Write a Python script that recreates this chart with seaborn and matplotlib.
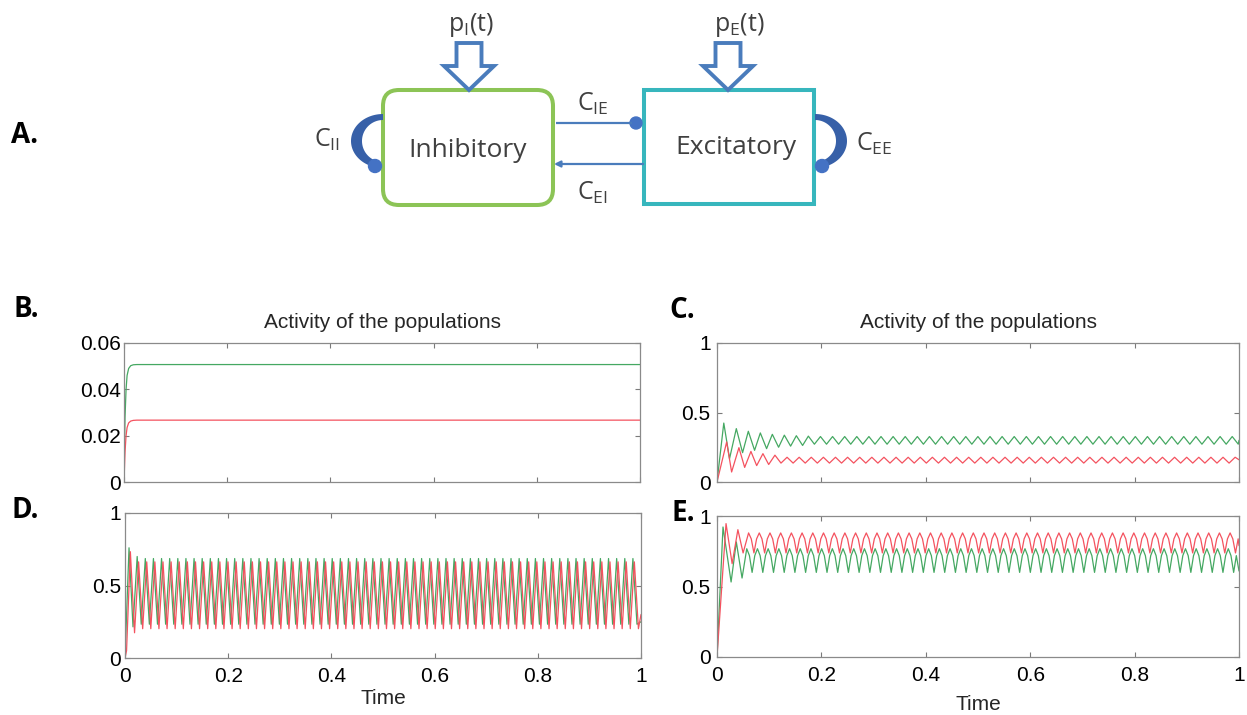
import matplotlib
matplotlib.use("Agg")
import matplotlib.pyplot as plt
from matplotlib.patches import FancyBboxPatch, Rectangle, Polygon, Circle, FancyArrowPatch
import numpy as np
import pandas as pd
import seaborn as sns

W, H = 1247, 715

# ---------------------------------------------------------------- data
time_ticks = [0, 0.2, 0.4, 0.6, 0.8, 1]
time_tick_labels = ["0", "0.2", "0.4", "0.6", "0.8", "1"]
small_yticks = [0, 0.02, 0.04, 0.06]
small_ytick_labels = ["0", "0.02", "0.04", "0.06"]
unit_yticks = [0, 0.5, 1]
unit_ytick_labels = ["0", "0.5", "1"]

# B: activity settles on a fixed point
b_time = [0, 0.002, 0.004, 0.006, 0.009, 0.013, 0.018, 0.025, 1.0]
b_green = [0, 0.028, 0.040, 0.046, 0.049, 0.0502, 0.0506, 0.0507, 0.0507]
b_red = [0, 0.013, 0.020, 0.0235, 0.0255, 0.0263, 0.0266, 0.0267, 0.0267]

# C: damped oscillation (transient extrema, then steady trough/peak levels)
c_period = 0.0232
c_green_head_t = [0, 0.013, 0.024, 0.037, 0.049, 0.060, 0.072, 0.083, 0.095,
                  0.106, 0.118, 0.129, 0.141, 0.152, 0.164, 0.175]
c_green_head_v = [0, 0.424, 0.168, 0.384, 0.211, 0.365, 0.228, 0.353, 0.240,
                  0.343, 0.250, 0.337, 0.258, 0.333, 0.263, 0.330]
c_green_cycle = [0.272, 0.327]
c_green_end = 0.30
c_red_head_t = [0, 0.0185, 0.028, 0.042, 0.053, 0.065, 0.076, 0.088, 0.099, 0.111]
c_red_head_v = [0, 0.288, 0.072, 0.247, 0.105, 0.220, 0.118, 0.204, 0.126, 0.193]
c_red_cycle = [0.136, 0.178]
c_red_end = 0.16

# D: sustained large oscillation
d_period = 0.01575
d_green_head_t = [0, 0.0078, 0.0155, 0.0236]
d_green_head_v = [0, 0.76, 0.215, 0.70]
d_green_cycle = [0.233, 0.686]
d_green_end = 0.25
d_red_head_t = [0, 0.003, 0.0104, 0.0185]
d_red_head_v = [0, 0.05, 0.733, 0.174]
d_red_cycle = [0.663, 0.202]
d_red_end = 0.30

# E: oscillation at high activity (rounded tops, narrow troughs:
# each cycle sampled at shoulder, trough, shoulder, peak)
e_period = 0.0205
e_green_head_t = [0, 0.0115, 0.027, 0.037, 0.048, 0.057]
e_green_head_v = [0, 0.922, 0.532, 0.816, 0.560, 0.768]
e_green_cycle = [0.719, 0.600, 0.719, 0.768]
e_green_end = 0.61
e_red_head_t = [0, 0.0173, 0.029, 0.040, 0.050, 0.0605]
e_red_head_v = [0, 0.946, 0.662, 0.903, 0.738, 0.880]
e_red_cycle = [0.838, 0.738, 0.838, 0.880]
e_red_end = 0.79

GREEN = "#45a862"
RED = "#f4525f"


def trace(head_t, head_v, cycle_v, period, end_v):
    """Samples of an oscillating trace: transient extrema, then repeating cycle levels."""
    t, v = list(head_t), list(head_v)
    step = period / len(cycle_v)
    i = 0
    while t[-1] + step < 1.0:
        t.append(t[-1] + step)
        v.append(cycle_v[i % len(cycle_v)])
        i += 1
    t.append(1.0)
    v.append(end_v)
    return pd.DataFrame({"time": t, "activity": v})


# ---------------------------------------------------------------- figure
sns.set_theme(style="white")
plt.rcParams["font.family"] = ["Liberation Sans", "DejaVu Sans"]

fig = plt.figure(figsize=(W / 100, H / 100), dpi=100)
fig.patch.set_facecolor("white")


def px_rect(l, t, r, b):
    return [l / W, 1 - b / H, (r - l) / W, (b - t) / H]


def style_axes(ax, yticks, ylabels, show_x, ypad):
    ax.set_xlim(0, 1)
    ax.set_ylim(yticks[0], yticks[-1])
    ax.set_xticks(time_ticks)
    ax.set_yticks(yticks)
    ax.set_yticklabels(ylabels)
    if show_x:
        ax.set_xticklabels(time_tick_labels)
    else:
        ax.set_xticklabels([])
    ax.tick_params(axis="both", which="major", direction="in", top=True, bottom=True,
                   left=True, right=True, length=3.6, width=0.8, color="#7a7a7a",
                   labelsize=15, labelcolor="black")
    ax.tick_params(axis="x", pad=6.5)
    ax.tick_params(axis="y", pad=ypad)
    for s in ax.spines.values():
        s.set_color("#8a8a8a")
        s.set_linewidth(0.9)
        s.set_visible(True)
    ax.set_xlabel("")
    ax.set_ylabel("")


def draw(ax, df_green, df_red):
    sns.lineplot(data=df_green, x="time", y="activity", ax=ax, color=GREEN,
                 linewidth=0.9, sort=False, estimator=None)
    sns.lineplot(data=df_red, x="time", y="activity", ax=ax, color=RED,
                 linewidth=0.9, sort=False, estimator=None)


# B
axB = fig.add_axes(px_rect(124, 343, 640, 482))
draw(axB, pd.DataFrame({"time": b_time, "activity": b_green}),
     pd.DataFrame({"time": b_time, "activity": b_red}))
style_axes(axB, small_yticks, small_ytick_labels, False, 2.5)
axB.set_title("Activity of the populations", fontsize=15, pad=11)

# C
axC = fig.add_axes(px_rect(717, 343, 1239, 482))
draw(axC, trace(c_green_head_t, c_green_head_v, c_green_cycle, c_period, c_green_end),
     trace(c_red_head_t, c_red_head_v, c_red_cycle, c_period, c_red_end))
style_axes(axC, unit_yticks, unit_ytick_labels, False, 4.5)
axC.set_title("Activity of the populations", fontsize=15, pad=11)

# D
axD = fig.add_axes(px_rect(125, 513, 641, 658))
draw(axD, trace(d_green_head_t, d_green_head_v, d_green_cycle, d_period, d_green_end),
     trace(d_red_head_t, d_red_head_v, d_red_cycle, d_period, d_red_end))
style_axes(axD, unit_yticks, unit_ytick_labels, True, 3)
axD.set_xlabel("Time", fontsize=15, labelpad=2)

# E
axE = fig.add_axes(px_rect(717, 516, 1239, 657))
draw(axE, trace(e_green_head_t, e_green_head_v, e_green_cycle, e_period, e_green_end),
     trace(e_red_head_t, e_red_head_v, e_red_cycle, e_period, e_red_end))
style_axes(axE, unit_yticks, unit_ytick_labels, True, 4.5)
axE.set_xlabel("Time", fontsize=15, labelpad=7)

# ---------------------------------------------------------------- diagram layer (pixel coordinates)
ov = fig.add_axes([0, 0, 1, 1], zorder=-1)
ov.set_xlim(0, W)
ov.set_ylim(H, 0)
ov.axis("off")

LETTER = dict(family=["Open Sans", "DejaVu Sans"], weight="bold", fontsize=20,
              color="black", ha="left", va="baseline")
ov.text(11, 143, "A.", **LETTER)
ov.text(13, 317, "B.", **LETTER)
ov.text(669, 318, "C.", **LETTER)
ov.text(12, 518, "D.", **LETTER)
ov.text(672, 521, "E.", **LETTER)

DIA_FONT = ["Open Sans", "DejaVu Sans"]
TXT = "#404040"
BLUE = "#4a7cbc"

# population boxes
ov.add_patch(FancyBboxPatch((383, 90), 170, 115, boxstyle="round,pad=0,rounding_size=16",
                            facecolor="white", edgecolor="#8cc456", linewidth=2.9))
ov.add_patch(Rectangle((644, 90), 170, 114, facecolor="white", edgecolor="#37b6bd",
                       linewidth=2.9))
ov.text(468, 157, "Inhibitory", family=DIA_FONT, fontsize=19, color=TXT,
        ha="center", va="baseline")
ov.text(736, 154, "Excitatory", family=DIA_FONT, fontsize=19, color=TXT,
        ha="center", va="baseline")


# hollow input arrows
def block_arrow(cx):
    pts = [(cx - 12.5, 43), (cx + 12.5, 43), (cx + 12.5, 66), (cx + 25, 66),
           (cx, 90), (cx - 25, 66), (cx - 12.5, 66)]
    ov.add_patch(Polygon(pts, closed=True, facecolor="white", edgecolor=BLUE,
                         linewidth=2.8, joinstyle="miter"))


block_arrow(469)
block_arrow(728)
ov.text(471, 31, r"$\mathregular{p_I(t)}$", family=DIA_FONT, fontsize=18, color=TXT,
        ha="center", va="baseline")
ov.text(739, 31, r"$\mathregular{p_E(t)}$", family=DIA_FONT, fontsize=18, color=TXT,
        ha="center", va="baseline")

# coupling between the populations
ov.plot([556, 632], [123, 123], color=BLUE, linewidth=1.6, solid_capstyle="butt")
ov.add_patch(Circle((636, 123), 6, color="#4472c4"))
ov.add_patch(FancyArrowPatch((643, 164), (554, 164), arrowstyle="-|>", mutation_scale=9,
                             color=BLUE, linewidth=1.6, shrinkA=0, shrinkB=0))
ov.text(577, 111, r"$\mathregular{C_{IE}}$", family=DIA_FONT, fontsize=18, color=TXT,
        ha="left", va="baseline")
ov.text(577, 200, r"$\mathregular{C_{EI}}$", family=DIA_FONT, fontsize=18, color=TXT,
        ha="left", va="baseline")


# self-coupling loops (crescent shapes ending in a dot)
def loop(cx, side, dot):
    a = np.radians(np.linspace(-90, 72, 60))
    outer = np.column_stack([cx + side * 32 * np.cos(a), 141 + 27 * np.sin(a)])
    inner = np.column_stack([cx + side * 21 * np.cos(a[::-1]), 141 + 21 * np.sin(a[::-1])])
    ov.add_patch(Polygon(np.vstack([outer, inner]), closed=True, facecolor="#3760a8",
                         edgecolor="none"))
    ov.add_patch(Circle(dot, 6.5, color="#4472c4"))


loop(383, -1, (375, 166))
loop(815, 1, (822, 166))
ov.text(314, 147, r"$\mathregular{C_{II}}$", family=DIA_FONT, fontsize=18, color=TXT,
        ha="left", va="baseline")
ov.text(856, 151, r"$\mathregular{C_{EE}}$", family=DIA_FONT, fontsize=18, color=TXT,
        ha="left", va="baseline")

fig.savefig("out.png", dpi=100, facecolor="white")
